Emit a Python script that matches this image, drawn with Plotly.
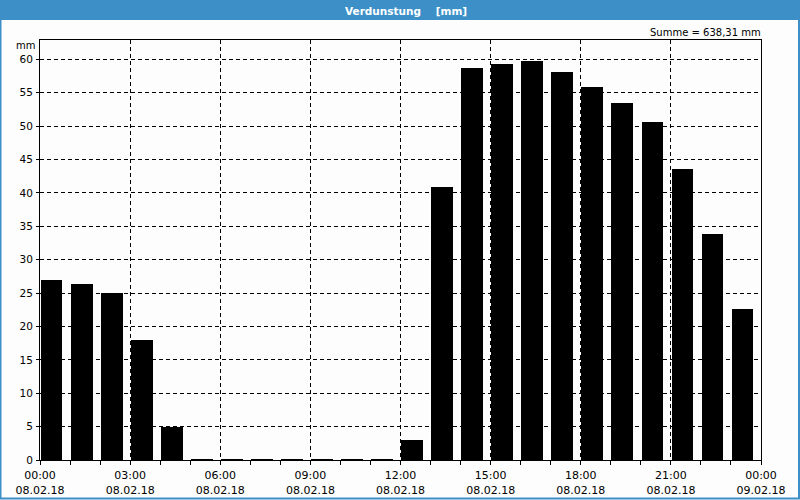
import plotly.graph_objects as go

# --- data ---
hours = list(range(24))
values = [27.0, 26.4, 25.0, 17.9, 4.95, 0.15, 0.15, 0.15, 0.15, 0.15, 0.15, 0.15,
          2.95, 40.9, 58.75, 59.3, 59.75, 58.1, 55.85, 53.5, 50.65, 43.55, 33.8, 22.55]
tick_hours = [0, 3, 6, 9, 12, 15, 18, 21, 24]
tick_times = ["00:00", "03:00", "06:00", "09:00", "12:00", "15:00", "18:00", "21:00", "00:00"]
tick_dates = ["08.02.18"] * 8 + ["09.02.18"]
y_ticks = list(range(0, 61, 5))
title_text = "Verdunstung &nbsp;&nbsp;&nbsp;[mm]"
sum_text = "Summe = 638,31 mm"
unit_text = "mm"

W, H = 800, 500
ML, MR, MT, MB = 40, 39, 40, 40
PW, PH = W - ML - MR, H - MT - MB
BLUE = "#3c8fc7"
FONT = "DejaVu Sans"

def px_x(px):
    return (px - ML) / PW

def px_y(py):
    return (H - MB - py) / PH

fig = go.Figure()
fig.add_trace(go.Bar(
    x=[h + 0.385 for h in hours], y=values, width=0.725,
    marker=dict(color="#000000", line=dict(width=0)),
    hoverinfo="skip",
))

grid = dict(showgrid=True, gridcolor="#000000", gridwidth=1, griddash="4px,3px")

fig.update_layout(
    width=W, height=H,
    margin=dict(l=ML, r=MR, t=MT, b=MB, autoexpand=False),
    paper_bgcolor="#fcfdfc", plot_bgcolor="#fcfdfc",
    showlegend=False, bargap=0,
    font=dict(family=FONT, size=10, color="#000000"),
    xaxis=dict(
        range=[0, 24], tickmode="array", tickvals=tick_hours,
        ticktext=[f"{t}<br>{d}" for t, d in zip(tick_times, tick_dates)],
        ticks="outside", ticklen=4, tickcolor="#000000", tickwidth=1,
        minor=dict(dtick=1, tick0=0, ticks="outside", ticklen=4, tickcolor="#000000", showgrid=False),
        showline=True, linecolor="#000000", linewidth=1, mirror=True,
        zeroline=False, tickfont=dict(size=11, family=FONT), ticklabelstandoff=1,
        automargin=False, **grid,
    ),
    yaxis=dict(
        range=[0, 62.9], tickmode="array", tickvals=y_ticks,
        ticks="outside", ticklen=3, tickcolor="#000000", tickwidth=1,
        showline=True, linecolor="#000000", linewidth=1, mirror=True,
        zeroline=False, tickfont=dict(size=10.5, family=FONT), ticklabelstandoff=1,
        automargin=False, **grid,
    ),
    shapes=[
        dict(type="rect", xref="paper", yref="paper",
             x0=px_x(0), x1=px_x(W), y0=px_y(20), y1=px_y(0),
             fillcolor=BLUE, line=dict(width=0), layer="below"),
        dict(type="rect", xref="paper", yref="paper",
             x0=px_x(0.5), x1=px_x(W - 1), y0=px_y(H - 1.5), y1=px_y(0.5),
             fillcolor="rgba(0,0,0,0)", line=dict(color=BLUE, width=2), layer="above"),
    ],
    annotations=[
        dict(text="<b>" + title_text + "</b>", xref="paper", yref="paper",
             x=px_x(406), y=px_y(10.5), xanchor="center", yanchor="middle", showarrow=False,
             font=dict(color="#ffffff", size=10.5, family=FONT)),
        dict(text=sum_text, xref="paper", yref="paper", x=px_x(763), y=px_y(32),
             xanchor="right", yanchor="middle", showarrow=False,
             font=dict(size=10, family=FONT)),
        dict(text=unit_text, xref="paper", yref="paper", x=px_x(37), y=px_y(46),
             xanchor="right", yanchor="middle", showarrow=False,
             font=dict(size=10, family=FONT)),
    ],
)

fig.write_html("out.html")
